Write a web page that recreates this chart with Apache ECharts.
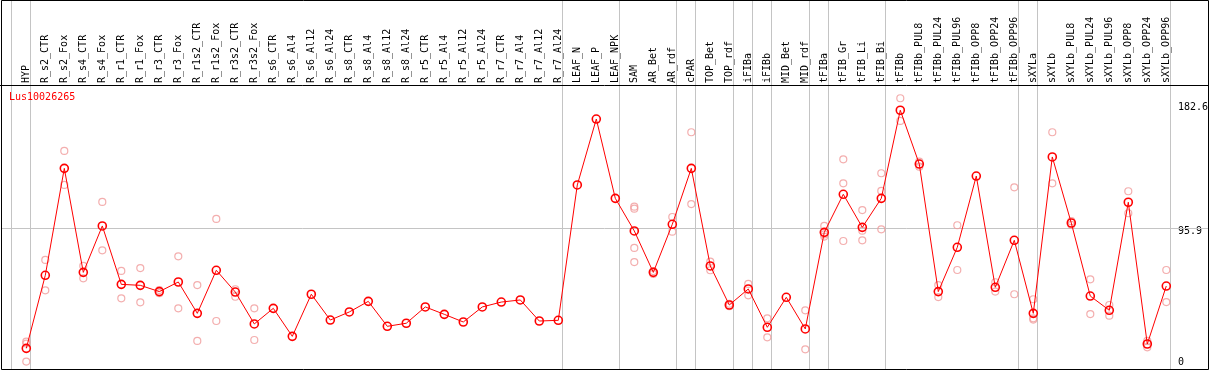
<!DOCTYPE html>
<html>
<head>
<meta charset="utf-8">
<script src="https://cdn.jsdelivr.net/npm/echarts@6/dist/echarts.min.js"></script>
<style>
html,body{margin:0;padding:0;background:#fff;}
#chart{width:1209px;height:370px;}
</style>
</head>
<body>
<div id="chart"></div>
<script>
const geneName = 'Lus10026265';
const categories = ['HYP','R_s2_CTR','R_s2_Fox','R_s4_CTR','R_s4_Fox','R_r1_CTR','R_r1_Fox','R_r3_CTR','R_r3_Fox','R_r1s2_CTR','R_r1s2_Fox','R_r3s2_CTR','R_r3s2_Fox','R_s6_CTR','R_s6_Al4','R_s6_Al12','R_s6_Al24','R_s8_CTR','R_s8_Al4','R_s8_Al12','R_s8_Al24','R_r5_CTR','R_r5_Al4','R_r5_Al12','R_r5_Al24','R_r7_CTR','R_r7_Al4','R_r7_Al12','R_r7_Al24','LEAF_N','LEAF_P','LEAF_NPK','SAM','AR_Bet','AR_rdf','cPAR','TOP_Bet','TOP_rdf','iFIBa','iFIBb','MID_Bet','MID_rdf','tFIBa','tFIB_Gr','tFIB_Li','tFIB_Bi','tFIBb','tFIBb_PUL8','tFIBb_PUL24','tFIBb_PUL96','tFIBb_OPP8','tFIBb_OPP24','tFIBb_OPP96','sXYLa','sXYLb','sXYLb_PUL8','sXYLb_PUL24','sXYLb_PUL96','sXYLb_OPP8','sXYLb_OPP24','sXYLb_OPP96'];
const meanValues = [9.8,62.2,138.9,64.3,97.6,55.7,55.0,50.5,57.4,34.9,65.8,50.2,27.3,38.5,18.4,48.6,30.1,35.9,43.5,25.6,27.8,39.5,34.2,28.7,39.5,43.0,44.5,29.4,29.9,127.0,174.3,117.4,94.0,64.3,98.8,138.9,68.9,40.9,52.4,24.9,46.4,23.7,93.0,120.3,96.6,117.4,180.6,142.0,50.5,82.3,133.4,53.6,87.3,34.9,147.1,99.7,47.3,37.1,114.6,12.9,54.5];
const rep1 = [14.6,73.2,151.4,68.9,114.8,65.3,67.4,51.6,75.8,55.2,102.6,52.2,38.5,null,null,null,null,null,null,null,null,null,null,null,null,null,null,null,null,null,null,null,111.4,65.2,104.0,164.8,72.0,41.8,56.0,31.3,null,37.1,97.6,145.4,109.0,135.4,189.2,143.7,55.2,98.1,null,57.2,125.3,45.0,164.8,101.0,59.3,40.9,122.5,15.1,66.0];
const rep2 = [13.2,51.4,127.0,60.0,80.1,45.7,42.8,49.4,38.5,15.1,29.4,46.8,15.8,null,null,null,null,null,null,null,null,null,null,null,null,null,null,null,null,null,null,null,110.0,63.2,93.5,113.3,65.8,40.0,47.8,17.7,null,9.1,91.5,128.2,94.2,122.7,172.9,140.1,46.6,66.0,null,50.5,48.6,31.3,128.2,98.4,34.4,33.2,106.7,10.5,43.0];
const rep3 = [0.3,null,null,null,null,null,null,null,null,null,null,null,null,null,null,null,null,null,null,null,null,null,null,null,null,null,null,null,null,null,null,null,81.8,null,null,null,null,null,null,null,null,null,90.0,86.8,87.3,95.2,null,null,null,null,null,null,null,30.4,null,null,null,null,null,null,null];
const rep4 = [null,null,null,null,null,null,null,null,null,null,null,null,null,null,null,null,null,null,null,null,null,null,null,null,null,null,null,null,null,null,null,null,71.7,null,null,null,null,null,null,null,null,null,null,null,null,null,null,null,null,null,null,null,null,null,null,null,null,null,null,null,null];
const yTickValues = [0, 95.9, 182.6];
const refLineValue = 95.9;
const groupEnds = [-1, 0, 28, 31, 34, 35, 37, 38, 39, 41, 42, 45, 52, 53, 60];

const FONT = 'DejaVu Sans Mono';
const SEP_OFFSET = 0.21;

const chart = echarts.init(document.getElementById('chart'), null, {renderer: 'canvas'});

const idx = categories.map((_, i) => i);
const meanData = meanValues.map((v, i) => [i, v]);
const repData = [];
[rep1, rep2, rep3, rep4].forEach(arr => arr.forEach((v, i) => { if (v !== null) repData.push([i, v]); }));

const sepLines = groupEnds.map(e => ({xAxis: e + SEP_OFFSET}));
sepLines.push({yAxis: refLineValue});

chart.setOption({
  animation: false,
  backgroundColor: '#ffffff',
  title: {
    text: geneName, left: 9, top: 92, padding: 0,
    textStyle: {fontFamily: FONT, fontSize: 10, fontWeight: 'normal', color: '#ff0000'}
  },
  grid: {left: 1, right: 1, top: 0, bottom: 1, containLabel: false, outerBoundsMode: 'none', show: false},
  xAxis: {
    type: 'value', position: 'top', min: -1.3316, max: 62.195,
    axisLine: {show: false}, axisTick: {show: false}, splitLine: {show: false},
    axisLabel: {
      customValues: idx, rotate: 90, margin: -83,
      formatter: v => categories[Math.round(v)] || '',
      fontFamily: FONT, fontSize: 10, color: '#000000',
      showMinLabel: true, showMaxLabel: true, hideOverlap: false
    }
  },
  yAxis: {
    type: 'value', position: 'right', min: -5.02, max: 259.68,
    axisLine: {show: false}, axisTick: {show: false}, splitLine: {show: false},
    axisLabel: {
      customValues: yTickValues, inside: true, margin: 30, align: 'left',
      fontFamily: FONT, fontSize: 10, color: '#000000',
      showMinLabel: true, showMaxLabel: true,
      formatter: v => (Math.abs(v - refLineValue) < 1e-6 ? '{s|' + v + '}' : String(v)),
      rich: {s: {fontFamily: FONT, fontSize: 10, color: '#000000', padding: [7, 0, 0, 0]}}
    }
  },
  series: [
    {
      type: 'scatter', z: 2, clip: false,
      data: repData,
      symbol: 'circle', symbolSize: 7,
      itemStyle: {color: 'rgba(0,0,0,0)', borderColor: '#f09a9a', borderWidth: 1.2},
      markLine: {
        silent: true, symbol: 'none', z: 1,
        label: {show: false},
        lineStyle: {color: '#c4c4c4', width: 1, type: 'solid'},
        emphasis: {disabled: true},
        data: sepLines
      }
    },
    {
      type: 'line', z: 3, clip: false,
      data: meanData,
      symbol: 'circle', symbolSize: 8, showSymbol: true,
      lineStyle: {color: '#ff0000', width: 1},
      itemStyle: {color: 'rgba(0,0,0,0)', borderColor: '#ff0000', borderWidth: 1.6}
    }
  ],
  graphic: [
    {type: 'line', z: 100, shape: {x1: 0, y1: 85.5, x2: 1209, y2: 85.5}, style: {stroke: '#000000', lineWidth: 1}},
    {type: 'rect', z: 100, shape: {x: 1.5, y: 0.5, width: 1207, height: 369}, style: {fill: null, stroke: '#000000', lineWidth: 1}}
  ]
});
</script>
</body>
</html>
